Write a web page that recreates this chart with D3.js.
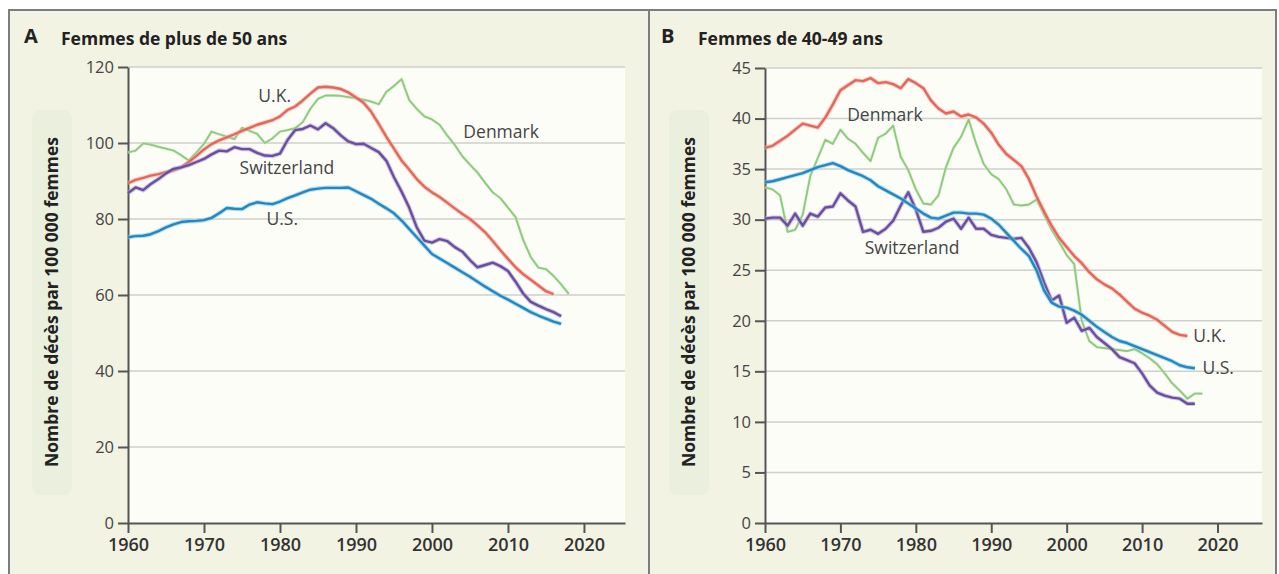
<!DOCTYPE html>
<html>
<head>
<meta charset="utf-8">
<script src="https://cdn.jsdelivr.net/npm/d3@7"></script>
<style>
  body { margin: 0; background: #fff; }
  svg { display: block; }
</style>
</head>
<body>
<svg id="chart" width="1279" height="574"></svg>
<script>
// years start at 1960, one value per year
var startYear = 1960;
var xTicks = [1960, 1970, 1980, 1990, 2000, 2010, 2020];
var yTicksA = [0, 20, 40, 60, 80, 100, 120];
var yTicksB = [0, 5, 10, 15, 20, 25, 30, 35, 40, 45];

// A : women over 50
var ukA = [89.4, 90.3, 90.8, 91.4, 91.8, 92.3, 92.8, 93.6, 95.0, 96.6,
  98.3, 99.7, 100.7, 101.5, 102.3, 103.2, 104.0, 104.8, 105.4, 106.0,
  107.0, 108.7, 109.6, 111.2, 113.0, 114.6, 114.8, 114.6, 114.2, 113.3,
  112.0, 110.6, 108.2, 105.0, 101.6, 98.5, 95.4, 93.0, 90.5, 88.5,
  87.0, 85.8, 84.3, 82.8, 81.3, 80.0, 78.3, 76.5, 74.2, 71.8,
  69.5, 67.3, 65.5, 64.0, 62.5, 61.0, 60.2];
var dkA = [97.5, 98.0, 99.9, 99.6, 99.0, 98.5, 98.0, 96.8, 95.4, 97.5,
  99.8, 103.0, 102.3, 101.7, 101.0, 104.0, 103.2, 102.4, 100.0, 101.2,
  103.0, 103.4, 103.9, 105.5, 109.0, 111.6, 112.5, 112.5, 112.4, 112.1,
  111.8, 111.4, 110.9, 110.2, 113.5, 115.0, 116.8, 111.3, 109.0, 107.0,
  106.2, 104.8, 102.0, 99.5, 96.5, 94.3, 92.2, 89.5, 87.0, 85.5,
  83.0, 80.5, 74.5, 70.0, 67.2, 66.8, 65.0, 62.8, 60.3];
var chA = [86.8, 88.3, 87.6, 89.2, 90.5, 92.0, 93.2, 93.6, 94.2, 95.0,
  95.8, 97.0, 98.0, 97.8, 98.9, 98.4, 98.4, 97.4, 96.7, 96.6,
  97.2, 100.8, 103.4, 103.7, 104.6, 103.6, 105.2, 103.9, 102.0, 100.4,
  99.7, 99.8, 98.7, 97.6, 95.3, 91.0, 87.2, 83.0, 77.8, 74.3,
  73.8, 74.7, 74.2, 72.6, 71.4, 69.2, 67.3, 67.9, 68.5, 67.6,
  66.3, 63.5, 60.4, 58.2, 57.2, 56.3, 55.5, 54.4];
var usA = [75.2, 75.5, 75.6, 76.0, 76.8, 77.8, 78.6, 79.2, 79.4, 79.5,
  79.7, 80.3, 81.5, 82.9, 82.7, 82.6, 83.8, 84.4, 84.1, 83.9,
  84.6, 85.5, 86.2, 87.0, 87.7, 88.0, 88.2, 88.2, 88.2, 88.3,
  87.3, 86.3, 85.3, 84.0, 82.8, 81.5, 79.6, 77.4, 75.2, 73.0,
  70.8, 69.6, 68.4, 67.2, 66.0, 64.8, 63.5, 62.2, 61.0, 59.8,
  58.8, 57.7, 56.6, 55.5, 54.6, 53.8, 53.0, 52.4];

// B : women 40-49
var ukB = [37.1, 37.3, 37.8, 38.3, 38.9, 39.5, 39.3, 39.1, 40.1, 41.4,
  42.8, 43.3, 43.8, 43.7, 44.0, 43.5, 43.6, 43.4, 43.0, 43.9,
  43.5, 43.0, 41.8, 41.0, 40.5, 40.7, 40.2, 40.4, 40.1, 39.5,
  38.6, 37.4, 36.5, 35.9, 35.3, 34.0, 32.3, 30.8, 29.4, 28.2,
  27.3, 26.4, 25.7, 24.8, 24.1, 23.6, 23.2, 22.6, 21.9, 21.2,
  20.8, 20.5, 20.1, 19.5, 18.9, 18.6, 18.5];
var dkB = [33.2, 33.0, 32.4, 28.8, 29.0, 30.5, 34.3, 36.1, 37.9, 37.5,
  38.9, 38.0, 37.5, 36.6, 35.8, 38.1, 38.5, 39.3, 36.2, 34.9,
  33.0, 31.6, 31.5, 32.4, 35.2, 37.1, 38.2, 39.9, 37.5, 35.5,
  34.5, 34.0, 33.0, 31.5, 31.4, 31.5, 32.0, 30.5, 29.0, 27.8,
  26.5, 25.6, 20.0, 18.0, 17.4, 17.3, 17.2, 17.1, 17.0, 17.2,
  16.8, 16.3, 15.7, 14.8, 13.8, 13.1, 12.3, 12.8, 12.8];
var chB = [30.1, 30.2, 30.2, 29.4, 30.6, 29.4, 30.6, 30.3, 31.2, 31.3,
  32.6, 31.9, 31.3, 28.8, 29.0, 28.6, 29.1, 29.9, 31.4, 32.7,
  31.0, 28.8, 28.9, 29.2, 29.8, 30.1, 29.1, 30.2, 29.1, 29.1,
  28.5, 28.3, 28.2, 28.1, 28.2, 27.2, 25.8, 23.8, 22.0, 22.5,
  19.8, 20.3, 19.0, 19.3, 18.4, 17.8, 17.2, 16.4, 16.1, 15.8,
  14.8, 13.6, 12.9, 12.6, 12.4, 12.3, 11.8, 11.8];
var usB = [33.7, 33.8, 34.0, 34.2, 34.4, 34.6, 34.9, 35.2, 35.4, 35.6,
  35.3, 34.9, 34.6, 34.3, 33.9, 33.3, 32.9, 32.5, 32.1, 31.6,
  31.1, 30.6, 30.2, 30.1, 30.4, 30.7, 30.7, 30.6, 30.6, 30.5,
  30.1, 29.5, 28.7, 27.9, 27.1, 26.4, 25.0, 23.0, 21.8, 21.4,
  21.3, 21.0, 20.6, 20.0, 19.4, 18.9, 18.4, 18.0, 17.8, 17.5,
  17.2, 16.9, 16.6, 16.3, 16.0, 15.6, 15.4, 15.3];

var yTitle = "Nombre de décès par 100 000 femmes";

var colors = {uk: "#e2685b", dk: "#8cca7c", ch: "#6a4f9f", us: "#2c84bd"};
var glow = {uk: "#f6b3aa", dk: "#c9e8bd", ch: "#b3a3d6", us: "#78d2f0"};

var svg = d3.select("#chart");

// outer frame and divider
svg.append("rect").attr("x", 0).attr("y", 0).attr("width", 1279).attr("height", 574).attr("fill", "#fff");
svg.append("rect")
    .attr("x", 9).attr("y", 10).attr("width", 1267).attr("height", 580)
    .attr("fill", "#f3f3e3").attr("stroke", "#7d7d7d").attr("stroke-width", 2);
svg.append("line")
    .attr("x1", 649).attr("x2", 649).attr("y1", 10).attr("y2", 574)
    .attr("stroke", "#7d7d7d").attr("stroke-width", 2);

function drawPanel(p) {
  var g = svg.append("g");

  var x = d3.scaleLinear().domain([1960, p.xEnd]).range([p.left, p.right]);
  var y = d3.scaleLinear().domain([0, p.yMax]).range([523, p.top]);

  // faint band behind the y title
  g.append("rect")
      .attr("x", p.left - 96).attr("y", 110).attr("width", 40).attr("height", 385)
      .attr("rx", 8).attr("fill", "#ebf0de");

  // plot area
  g.append("rect")
      .attr("x", p.left).attr("y", p.top)
      .attr("width", p.right - p.left).attr("height", 523 - p.top)
      .attr("fill", "#fdfdf8");

  // titles
  g.append("text")
      .attr("x", p.left - 104).attr("y", 43)
      .attr("font-family", "Open Sans, sans-serif").attr("font-weight", 700)
      .attr("font-size", 20).attr("fill", "#222")
      .text(p.letter);
  g.append("text")
      .attr("x", p.left - 67).attr("y", 45)
      .attr("font-family", "Open Sans, sans-serif").attr("font-weight", 700)
      .attr("font-size", 17.5).attr("fill", "#222")
      .text(p.title);

  // grid
  g.append("g").selectAll("line")
    .data(p.yTicks.filter(function(d) { return d > 0; }))
    .enter().append("line")
      .attr("x1", p.left).attr("x2", p.right)
      .attr("y1", function(d) { return y(d); })
      .attr("y2", function(d) { return y(d); })
      .attr("stroke", "#cfcfcb").attr("stroke-width", 1.5);

  // axes
  var yAxis = g.append("g")
      .attr("transform", "translate(" + p.left + ",0)")
      .call(d3.axisLeft(y).tickValues(p.yTicks).tickSize(10).tickSizeOuter(0).tickPadding(4));
  yAxis.selectAll("text")
      .attr("font-family", "Open Sans, sans-serif").attr("font-size", 16.5).style("fill", "#444");

  var xAxis = g.append("g")
      .attr("transform", "translate(0,523)")
      .call(d3.axisBottom(x).tickValues(xTicks).tickSize(10).tickSizeOuter(0).tickPadding(5)
        .tickFormat(d3.format("d")));
  xAxis.selectAll("text")
      .attr("font-family", "Open Sans, sans-serif").attr("font-weight", 600)
      .attr("font-size", 18).style("fill", "#333");

  g.selectAll(".domain, .tick line").attr("stroke", "#555").attr("stroke-width", 2);

  // y title
  g.append("text")
      .attr("transform", "translate(" + (p.left - 70) + ",302) rotate(-90)")
      .attr("text-anchor", "middle")
      .attr("font-family", "Open Sans, sans-serif").attr("font-weight", 700)
      .attr("font-size", 17.5).attr("fill", "#222")
      .text(yTitle);

  // lines
  var line = d3.line()
      .x(function(d, i) { return x(startYear + i); })
      .y(function(d) { return y(d); });

  p.series.forEach(function(s) {
    g.append("path")
        .attr("d", line(s.values))
        .attr("fill", "none").attr("stroke", glow[s.key])
        .attr("stroke-width", s.key == "dk" ? 3 : 4.5).attr("stroke-opacity", 0.6)
        .attr("stroke-linejoin", "round");
    g.append("path")
        .attr("d", line(s.values))
        .attr("fill", "none").attr("stroke", colors[s.key])
        .attr("stroke-width", s.key == "dk" ? 1.8 : 2.4)
        .attr("stroke-linejoin", "round");
  });

  // country labels
  g.selectAll(".lab")
    .data(p.labels)
    .enter().append("text")
      .attr("x", function(d) { return x(d.year); })
      .attr("y", function(d) { return y(d.value); })
      .attr("dy", "0.35em")
      .attr("text-anchor", function(d) { return d.anchor; })
      .attr("font-family", "Open Sans, sans-serif").attr("font-size", 17.5)
      .attr("fill", "#444")
      .text(function(d) { return d.name; });
}

drawPanel({
  letter: "A", title: "Femmes de plus de 50 ans",
  left: 128, right: 625, top: 67, xEnd: 2025.4, yMax: 120, yTicks: yTicksA,
  series: [
    {key: "dk", values: dkA}, {key: "uk", values: ukA},
    {key: "ch", values: chA}, {key: "us", values: usA}
  ],
  labels: [
    {name: "U.K.", year: 1979.3, value: 112.4, anchor: "middle"},
    {name: "Switzerland", year: 1980.9, value: 93.4, anchor: "middle"},
    {name: "U.S.", year: 1980.3, value: 80, anchor: "middle"},
    {name: "Denmark", year: 2009.1, value: 102.9, anchor: "middle"}
  ]
});

drawPanel({
  letter: "B", title: "Femmes de 40-49 ans",
  left: 765, right: 1262, top: 68, xEnd: 2025.9, yMax: 45, yTicks: yTicksB,
  series: [
    {key: "dk", values: dkB}, {key: "uk", values: ukB},
    {key: "ch", values: chB}, {key: "us", values: usB}
  ],
  labels: [
    {name: "Denmark", year: 1975.9, value: 40.4, anchor: "middle"},
    {name: "Switzerland", year: 1979.5, value: 27.2, anchor: "middle"},
    {name: "U.K.", year: 2016.8, value: 18.5, anchor: "start"},
    {name: "U.S.", year: 2018, value: 15.3, anchor: "start"}
  ]
});
</script>
</body>
</html>
